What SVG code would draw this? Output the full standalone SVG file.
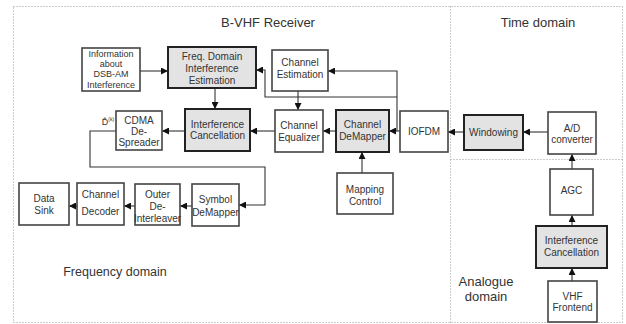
<svg xmlns="http://www.w3.org/2000/svg" width="626" height="324" viewBox="0 0 626 324">
<defs>
<marker id="ah" viewBox="0 0 8 8" refX="8" refY="4" markerWidth="7" markerHeight="7" markerUnits="userSpaceOnUse" orient="auto">
<path d="M0,0 L8,4 L0,8 z" fill="#111"/>
</marker>
</defs>
<style>
.b{fill:#fff;stroke:#444;stroke-width:1.6}
.g{fill:#e3e3e3;stroke:#222;stroke-width:2}
text{font-family:"Liberation Sans",Arial,sans-serif;fill:#333;text-anchor:middle}
.t{font-size:10px}
.s{font-size:9px}
.h{font-size:13px}
.c{fill:none;stroke:#333;stroke-width:1.1}
.a{marker-end:url(#ah)}
.d{fill:none;stroke:#999;stroke-width:1;stroke-dasharray:1,2}
</style>
<g id="borders">
<rect class="d" x="13.5" y="6.5" width="609" height="316"/>
<line class="d" x1="450.5" y1="6.5" x2="450.5" y2="322.5"/>
<line class="d" x1="450.5" y1="159.5" x2="622.5" y2="159.5"/>
</g>
<g id="labels">
<text class="h" x="268" y="27">B-VHF Receiver</text>
<text class="h" x="538" y="27">Time domain</text>
<text class="h" x="115" y="276" style="font-size:12.5px">Frequency domain</text>
<text class="h" x="486" y="286">Analogue</text>
<text class="h" x="486" y="301">domain</text>
<text x="108" y="125" style="font-size:9px">D̂<tspan style="font-size:5px" dy="-4">(k)</tspan></text>
</g>
<g id="connectors">
<line class="c a" x1="140" y1="71" x2="168" y2="71"/>
<line class="c a" x1="215" y1="88" x2="215" y2="109"/>
<line class="c a" x1="298" y1="91" x2="298" y2="110"/>
<line class="c a" x1="275" y1="131" x2="250" y2="131"/>
<line class="c a" x1="185" y1="131" x2="162" y2="131"/>
<polyline class="c a" points="116,131 90,131 90,167 265,167 265,205 239,205"/>
<line class="c a" x1="192" y1="206" x2="180" y2="206"/>
<line class="c a" x1="135" y1="206" x2="124" y2="206"/>
<line class="c a" x1="77" y1="206" x2="69" y2="206"/>
<line class="c a" x1="336" y1="131" x2="323" y2="131"/>
<line class="c a" x1="400" y1="131" x2="389" y2="131"/>
<polyline class="c a" points="397,131 397,71 328,71"/>
<polyline class="c a" points="397,97 265,97 265,70 256,70"/>
<line class="c a" x1="362" y1="173" x2="362" y2="152"/>
<line class="c a" x1="464" y1="132" x2="448" y2="132"/>
<line class="c a" x1="548" y1="132" x2="523" y2="132"/>
<line class="c a" x1="572" y1="169" x2="572" y2="154"/>
<line class="c a" x1="572" y1="226" x2="572" y2="215"/>
<line class="c a" x1="572" y1="281" x2="572" y2="268"/>
</g>
<g id="info">
<rect class="b" x="82" y="48" width="58" height="43"/>
<text class="s" x="111" y="56.5">Information</text>
<text class="s" x="111" y="66.5">about</text>
<text class="s" x="111" y="77">DSB-AM</text>
<text class="s" x="111" y="87.5">Interference</text>
</g>
<g id="freq-est">
<rect class="g" x="168" y="47" width="88" height="41"/>
<text class="t" x="212" y="59.5">Freq. Domain</text>
<text class="t" x="212" y="71.5">Interference</text>
<text class="t" x="212" y="83.5">Estimation</text>
</g>
<g id="chan-est">
<rect class="b" x="272" y="50" width="56" height="41"/>
<text class="t" x="300" y="66">Channel</text>
<text class="t" x="300" y="78">Estimation</text>
</g>
<g id="chan-eq">
<rect class="b" x="275" y="110" width="48" height="42"/>
<text class="t" x="299" y="129">Channel</text>
<text class="t" x="299" y="141">Equalizer</text>
</g>
<g id="int-canc">
<rect class="g" x="185" y="109" width="65" height="42"/>
<text class="t" x="217.5" y="127.5">Interference</text>
<text class="t" x="217.5" y="139">Cancellation</text>
</g>
<g id="cdma">
<rect class="b" x="116" y="111" width="46" height="39"/>
<text class="t" x="139" y="123.5">CDMA</text>
<text class="t" x="139" y="134.5">De-</text>
<text class="t" x="139" y="146">Spreader</text>
</g>
<g id="chan-demap">
<rect class="g" x="336" y="110" width="53" height="42"/>
<text class="t" x="362.5" y="128">Channel</text>
<text class="t" x="362.5" y="140">DeMapper</text>
</g>
<g id="iofdm">
<rect class="b" x="400" y="111" width="48" height="41"/>
<text class="t" x="424" y="135">IOFDM</text>
</g>
<g id="map-ctrl">
<rect class="b" x="337" y="173" width="56" height="41"/>
<text class="t" x="365" y="192.5">Mapping</text>
<text class="t" x="365" y="204.5">Control</text>
</g>
<g id="windowing">
<rect class="g" x="464" y="115" width="59" height="35"/>
<text class="t" x="493.5" y="135.5">Windowing</text>
</g>
<g id="adc">
<rect class="b" x="548" y="112" width="48" height="42"/>
<text class="t" x="572" y="131.5">A/D</text>
<text class="t" x="572" y="142.5">converter</text>
</g>
<g id="agc">
<rect class="b" x="550" y="169" width="43" height="46"/>
<text class="t" x="571.5" y="193.5">AGC</text>
</g>
<g id="int-canc2">
<rect class="g" x="536" y="226" width="71" height="42"/>
<text class="t" x="571.5" y="243.5">Interference</text>
<text class="t" x="571.5" y="255.5">Cancellation</text>
</g>
<g id="vhf">
<rect class="b" x="548" y="281" width="49" height="41"/>
<text class="t" x="572.5" y="299.5">VHF</text>
<text class="t" x="572.5" y="310.5">Frontend</text>
</g>
<g id="sym-demap">
<rect class="b" x="192" y="184" width="47" height="42"/>
<text class="t" x="215.5" y="202.5">Symbol</text>
<text class="t" x="215.5" y="215.5">DeMapper</text>
</g>
<g id="outer">
<rect class="b" x="135" y="184" width="45" height="41"/>
<text class="t" x="157.5" y="197.5">Outer</text>
<text class="t" x="157.5" y="209.5">De-</text>
<text class="t" x="157.5" y="221.5">Interleaver</text>
</g>
<g id="chan-dec">
<rect class="b" x="77" y="183" width="47" height="42"/>
<text class="t" x="100.5" y="197.5">Channel</text>
<text class="t" x="100.5" y="214.5">Decoder</text>
</g>
<g id="sink">
<rect class="b" x="19" y="183" width="50" height="42"/>
<text class="t" x="44" y="201.5">Data</text>
<text class="t" x="44" y="213.5">Sink</text>
</g>
</svg>
